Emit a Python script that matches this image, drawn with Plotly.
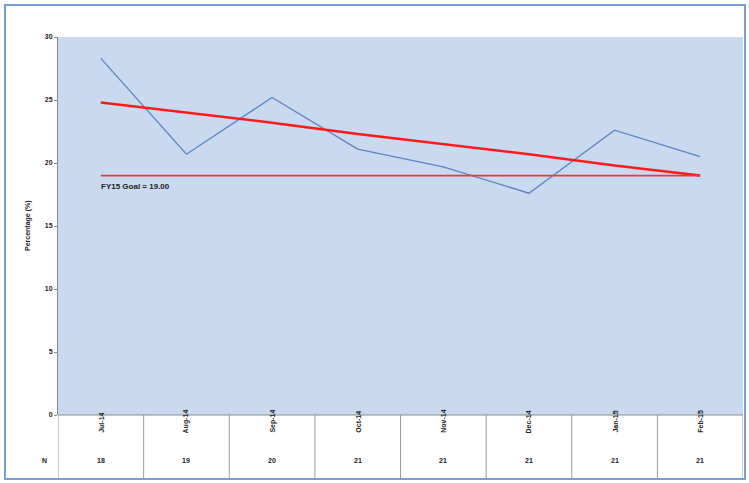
import plotly.graph_objects as go

categories = ["Jul-14", "Aug-14", "Sep-14", "Oct-14", "Nov-14", "Dec-14", "Jan-15", "Feb-15"]
percentage = [28.3, 20.7, 25.2, 21.1, 19.7, 17.6, 22.6, 20.5]
trend = [24.8, 24.0, 23.2, 22.3, 21.5, 20.7, 19.8, 19.0]
goal_value = 19.0
n_values = [18, 19, 20, 21, 21, 21, 21, 21]
y_ticks = [0, 5, 10, 15, 20, 25, 30]

W, H = 749, 483
L, R, T, B = 58, 6, 37, 68
pw, ph = W - L - R, H - T - B

def px(x):
    return (x - L) / pw

def py(y):
    return 1 - (y - T) / ph

xs = list(range(len(categories)))
fig = go.Figure()
fig.add_trace(go.Scatter(x=xs, y=percentage, mode="lines",
                         line=dict(color="#5b84c0", width=1.3), showlegend=False))
fig.add_trace(go.Scatter(x=xs, y=trend, mode="lines",
                         line=dict(color="#ff1a1a", width=2.5), showlegend=False))
fig.add_trace(go.Scatter(x=[xs[0], xs[-1]], y=[goal_value, goal_value], mode="lines",
                         line=dict(color="#e83a3a", width=1.6), showlegend=False))

font = dict(family="Liberation Sans, Arial", size=7, color="#222")
ann = []
for i, (c, n) in enumerate(zip(categories, n_values)):
    ann.append(dict(x=i, y=py(435), xref="x", yref="paper", text="<b>%s</b>" % c,
                    textangle=-90, showarrow=False, font=font))
    ann.append(dict(x=i, y=py(466), xref="x", yref="paper", text="<b>%d</b>" % n,
                    showarrow=False, font=font))
ann.append(dict(x=px(40), y=py(466), xref="paper", yref="paper", text="<b>N</b>",
                showarrow=False, font=font))
ann.append(dict(x=px(22), y=0.5, xref="paper", yref="paper", text="<b>Percentage (%)</b>",
                textangle=-90, showarrow=False, font=font))
ann.append(dict(x=xs[0], y=goal_value, xref="x", yref="y", text="<b>FY15 Goal = %.2f</b>" % goal_value,
                xanchor="left", yanchor="top", yshift=-4, xshift=-2, showarrow=False,
                font=dict(family="Liberation Sans, Arial", size=8, color="#222")))

shapes = []
for k in range(len(categories) + 1):
    shapes.append(dict(type="line", xref="x", yref="paper", x0=k - 0.5, x1=k - 0.5,
                       y0=0, y1=py(478), line=dict(color="#9a9a9a", width=1)))
shapes.append(dict(type="line", xref="paper", yref="paper", x0=0, x1=1, y0=0, y1=0,
                   line=dict(color="#8a8a8a", width=1)))
shapes.append(dict(type="rect", xref="paper", yref="paper", x0=px(5), x1=px(745),
                   y0=py(479), y1=py(5), line=dict(color="#7a9fd4", width=2), layer="below"))

fig.update_layout(
    width=W, height=H, margin=dict(l=L, r=R, t=T, b=B),
    paper_bgcolor="white", plot_bgcolor="#c9d9f0",
    xaxis=dict(range=[-0.5, len(categories) - 0.5], showticklabels=False, showgrid=False,
               zeroline=False, showline=False, ticks=""),
    yaxis=dict(range=[0, 30], tickvals=y_ticks, ticktext=["<b>%d</b>" % v for v in y_ticks],
               showgrid=False, zeroline=False, showline=True, linecolor="#8a8a8a", linewidth=1,
               ticks="outside", ticklen=3, tickcolor="#8a8a8a", tickfont=font),
    annotations=ann, shapes=shapes,
)
fig.write_html("out.html")
